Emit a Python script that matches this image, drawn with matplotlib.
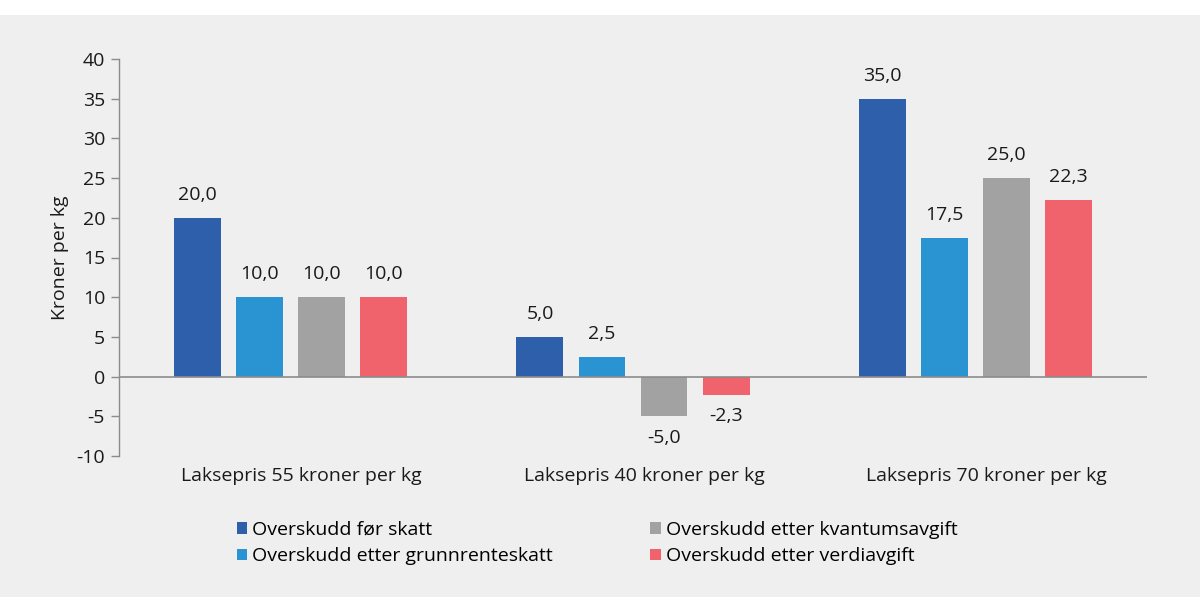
import numpy as np
import matplotlib.pyplot as plt
import matplotlib.transforms as mtransforms
from matplotlib.patches import Rectangle

plt.rcParams['font.family'] = ['Open Sans', 'DejaVu Sans']

# data
categories = ["Laksepris 55 kroner per kg", "Laksepris 40 kroner per kg", "Laksepris 70 kroner per kg"]
series = ["Overskudd før skatt", "Overskudd etter grunnrenteskatt",
          "Overskudd etter kvantumsavgift", "Overskudd etter verdiavgift"]
for_skatt = [20.0, 5.0, 35.0]
grunnrente = [10.0, 2.5, 17.5]
kvantum = [10.0, -5.0, 25.0]
verdi = [10.0, -2.3, 22.3]
colors = ["#2d5fab", "#2a93d1", "#a2a2a2", "#f0636c"]
yticks = [-10, -5, 0, 5, 10, 15, 20, 25, 30, 35, 40]

values = [for_skatt, grunnrente, kvantum, verdi]
fs = 14

fig = plt.figure(figsize=(12, 6.12), dpi=100)
fig.patch.set_facecolor("white")
# grey panel behind the chart
fig.patches.append(Rectangle((0, 1 - 597 / 612), 1, (597 - 15) / 612,
                             transform=fig.transFigure, facecolor="#efefef",
                             edgecolor="none", zorder=-10))

ax = fig.add_axes([119 / 1200, 1 - 456 / 612, (1147 - 119) / 1200, (456 - 59) / 612])
ax.set_facecolor("none")

x = np.arange(len(categories))
width = 0.137
step = 0.181
for i, (vals, col, name) in enumerate(zip(values, colors, series)):
    pos = x + (i - 1.5) * step
    ax.bar(pos, vals, width, color=col, label=name, zorder=2)
    for p, v in zip(pos, vals):
        lab = f"{v:.1f}".replace(".", ",")
        if v >= 0:
            ax.annotate(lab, (p, v), xytext=(0, 10), textcoords="offset points",
                        ha="center", va="bottom", fontsize=fs, color="#1a1a1a")
        else:
            ax.annotate(lab, (p, v), xytext=(0, -9), textcoords="offset points",
                        ha="center", va="top", fontsize=fs, color="#1a1a1a")

ax.axhline(0, color="#8c8c8c", linewidth=1.2, zorder=3)
ax.set_xlim(-0.5, 2.5)
ax.set_ylim(-10, 40)
ax.set_yticks(yticks)
ax.set_yticklabels([str(t) for t in yticks], fontsize=fs, color="#1a1a1a")
ax.set_xticks(x)
ax.set_xticklabels(categories, fontsize=fs, color="#1a1a1a")
ax.tick_params(axis="x", length=0, pad=8)
ax.tick_params(axis="y", length=6, width=1, color="#8c8c8c", pad=4)
# category labels sit a little right of the bar groups in the original
shift = mtransforms.ScaledTranslation(0.11, 0, fig.dpi_scale_trans)
for t in ax.get_xticklabels():
    t.set_transform(t.get_transform() + shift)
for s in ["top", "right", "bottom"]:
    ax.spines[s].set_visible(False)
ax.spines["left"].set_color("#8c8c8c")
ax.spines["left"].set_linewidth(1)
ax.set_ylabel("Kroner per kg", fontsize=fs, color="#1a1a1a", labelpad=5.5)

handles, labels = ax.get_legend_handles_labels()
fig.legend(handles, labels, ncol=2, loc="center left",
           bbox_to_anchor=(227 / 1200, 1 - 543 / 612), frameon=False,
           fontsize=fs, handlelength=0.55, handleheight=0.55, handletextpad=0.25,
           columnspacing=5.0, labelspacing=0.45, borderpad=0)

fig.savefig("out.png", dpi=100, facecolor=fig.get_facecolor())
